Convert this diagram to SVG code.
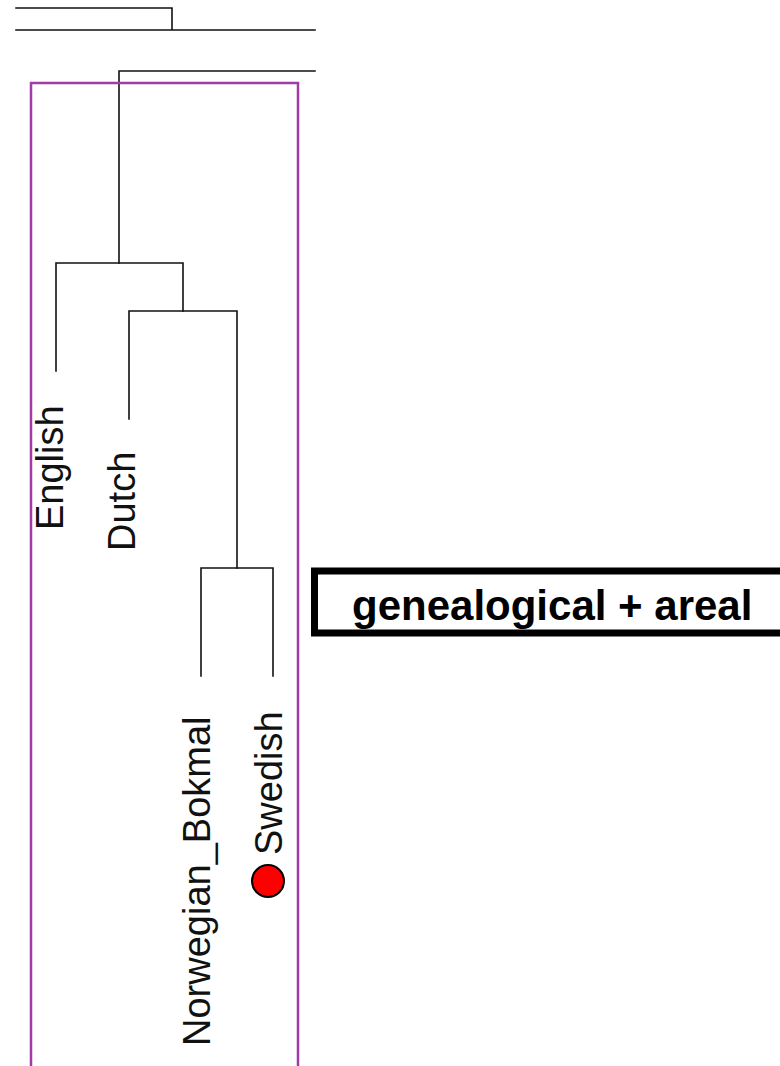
<svg xmlns="http://www.w3.org/2000/svg" width="780" height="1066" viewBox="0 0 780 1066">
<style>
.br{fill:none;stroke:#111;stroke-width:1.6;stroke-linecap:square}
.lbl{font-family:"Liberation Sans",Arial,sans-serif;font-size:38px;fill:#111}
.big{font-family:"Liberation Sans",Arial,sans-serif;font-size:42px;font-weight:bold;fill:#000}
</style>
<rect width="780" height="1066" fill="#fff"/>
<g id="connectors">
<path class="br" d="M16 8H172V30M16 30H315"/>
<path class="br" d="M315 71H119V263"/>
<path class="br" d="M56 371V263H183V311"/>
<path class="br" d="M129 419V311H237V568"/>
<path class="br" d="M201 676V568H273V676"/>
</g>
<g id="area-box">
<rect x="31" y="83" width="267" height="1000" fill="none" stroke="#a23aa8" stroke-width="2.5"/>
</g>
<g id="node-english"><text class="lbl" transform="translate(63,530) rotate(-90)">English</text></g>
<g id="node-dutch"><text class="lbl" transform="translate(135,551) rotate(-90)">Dutch</text></g>
<g id="node-norwegian"><text class="lbl" transform="translate(210,1046) rotate(-90)">Norwegian_Bokmal</text></g>
<g id="node-swedish"><text class="lbl" transform="translate(282,855) rotate(-90)">Swedish</text>
<circle cx="268" cy="881" r="16" fill="#f00" stroke="#000" stroke-width="2"/></g>
<g id="label-box">
<rect x="314.5" y="571" width="480" height="62" fill="#fff" stroke="#000" stroke-width="7"/>
<text class="big" x="352" y="620">genealogical + areal</text>
</g>
</svg>
